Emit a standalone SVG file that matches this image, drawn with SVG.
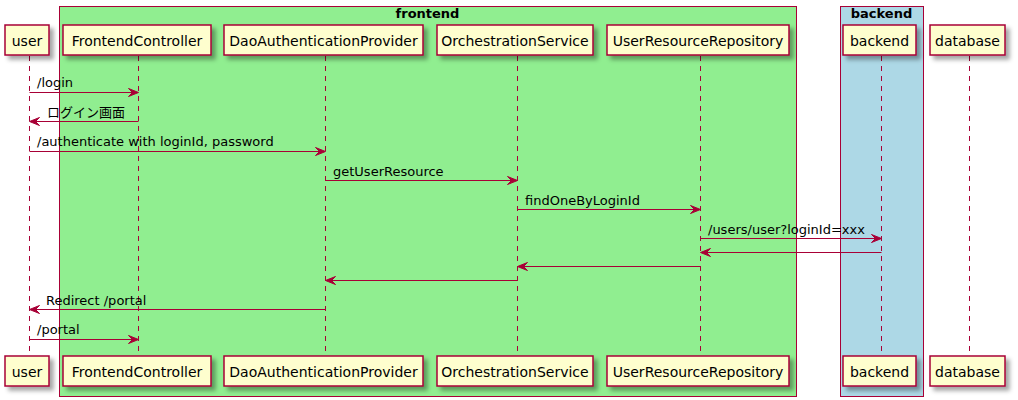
<svg xmlns="http://www.w3.org/2000/svg" width="1018" height="400" viewBox="0 0 1018 400">
<style>
.grp{stroke:#A80036;stroke-width:1}
.pbox{fill:#FEFECE;stroke:#A80036;stroke-width:1.5}
.ptxt{font-family:"DejaVu Sans","Noto Sans CJK JP",sans-serif;font-size:14px;fill:#000;text-anchor:middle}
.title{font-family:"DejaVu Sans",sans-serif;font-size:13px;font-weight:bold;fill:#000;text-anchor:middle}
.life{stroke:#A80036;stroke-width:1;stroke-dasharray:5,5;fill:none}
.msg{stroke:#A80036;stroke-width:1;fill:none}
.head{fill:#A80036;stroke:#A80036;stroke-width:1}
.mtxt{font-family:"DejaVu Sans","Noto Sans CJK JP",sans-serif;font-size:13px;fill:#000}
</style>
<defs>
<filter id="sh" x="-20%" y="-20%" width="150%" height="160%">
<feGaussianBlur in="SourceAlpha" stdDeviation="2"/>
<feOffset dx="4" dy="4" result="b"/>
<feFlood flood-color="#000" flood-opacity="0.35"/>
<feComposite in2="b" operator="in"/>
<feMerge><feMergeNode/><feMergeNode in="SourceGraphic"/></feMerge>
</filter>
</defs>
<rect width="1018" height="400" fill="#FFFFFF"/>
<g id="group-frontend">
<rect class="grp" x="59.5" y="6.5" width="737" height="390" fill="#90EE90"/>
<text class="title" x="427.5" y="18">frontend</text>
</g>
<g id="group-backend">
<rect class="grp" x="840.5" y="6.5" width="83" height="390" fill="#ADD8E6"/>
<text class="title" x="881.5" y="18">backend</text>
</g>
<g id="lifelines">
<line class="life" x1="29.5" y1="56" x2="29.5" y2="356"/>
<line class="life" x1="138.5" y1="56" x2="138.5" y2="356"/>
<line class="life" x1="325.5" y1="56" x2="325.5" y2="356"/>
<line class="life" x1="517.5" y1="56" x2="517.5" y2="356"/>
<line class="life" x1="700.5" y1="56" x2="700.5" y2="356"/>
<line class="life" x1="881.5" y1="56" x2="881.5" y2="356"/>
<line class="life" x1="969.5" y1="56" x2="969.5" y2="356"/>
</g>
<g id="user">
<rect class="pbox" x="5" y="25" width="44" height="30" filter="url(#sh)"/>
<text class="ptxt" x="27" y="45.5">user</text>
<rect class="pbox" x="5" y="356" width="44" height="30" filter="url(#sh)"/>
<text class="ptxt" x="27" y="376.5">user</text>
</g>
<g id="FrontendController">
<rect class="pbox" x="63" y="25" width="148" height="30" filter="url(#sh)"/>
<text class="ptxt" x="137" y="45.5">FrontendController</text>
<rect class="pbox" x="63" y="356" width="148" height="30" filter="url(#sh)"/>
<text class="ptxt" x="137" y="376.5">FrontendController</text>
</g>
<g id="DaoAuthenticationProvider">
<rect class="pbox" x="224" y="25" width="199" height="30" filter="url(#sh)"/>
<text class="ptxt" x="323.5" y="45.5">DaoAuthenticationProvider</text>
<rect class="pbox" x="224" y="356" width="199" height="30" filter="url(#sh)"/>
<text class="ptxt" x="323.5" y="376.5">DaoAuthenticationProvider</text>
</g>
<g id="OrchestrationService">
<rect class="pbox" x="437" y="25" width="156" height="30" filter="url(#sh)"/>
<text class="ptxt" x="515" y="45.5">OrchestrationService</text>
<rect class="pbox" x="437" y="356" width="156" height="30" filter="url(#sh)"/>
<text class="ptxt" x="515" y="376.5">OrchestrationService</text>
</g>
<g id="UserResourceRepository">
<rect class="pbox" x="607" y="25" width="182" height="30" filter="url(#sh)"/>
<text class="ptxt" x="698" y="45.5">UserResourceRepository</text>
<rect class="pbox" x="607" y="356" width="182" height="30" filter="url(#sh)"/>
<text class="ptxt" x="698" y="376.5">UserResourceRepository</text>
</g>
<g id="backend">
<rect class="pbox" x="843" y="25" width="73" height="30" filter="url(#sh)"/>
<text class="ptxt" x="879.5" y="45.5">backend</text>
<rect class="pbox" x="843" y="356" width="73" height="30" filter="url(#sh)"/>
<text class="ptxt" x="879.5" y="376.5">backend</text>
</g>
<g id="database">
<rect class="pbox" x="930" y="25" width="75" height="30" filter="url(#sh)"/>
<text class="ptxt" x="967.5" y="45.5">database</text>
<rect class="pbox" x="930" y="356" width="75" height="30" filter="url(#sh)"/>
<text class="ptxt" x="967.5" y="376.5">database</text>
</g>
<g id="connectors">
<line class="msg" x1="29.5" y1="92.5" x2="137" y2="92.5"/>
<polygon class="head" points="128.5,88.5 138.5,92.5 128.5,96.5 132.5,92.5"/>
<text class="mtxt" x="37" y="87">/login</text>

<line class="msg" x1="31" y1="121.5" x2="138.5" y2="121.5"/>
<polygon class="head" points="39.5,117.5 29.5,121.5 39.5,125.5 35.5,121.5"/>
<text class="mtxt" x="47" y="116.5">ログイン画面</text>

<line class="msg" x1="29.5" y1="151.5" x2="324" y2="151.5"/>
<polygon class="head" points="315.5,147.5 325.5,151.5 315.5,155.5 319.5,151.5"/>
<text class="mtxt" x="37" y="146">/authenticate with loginId, password</text>

<line class="msg" x1="325.5" y1="180.5" x2="516" y2="180.5"/>
<polygon class="head" points="507.5,176.5 517.5,180.5 507.5,184.5 511.5,180.5"/>
<text class="mtxt" x="333" y="175.5">getUserResource</text>

<line class="msg" x1="517.5" y1="209.5" x2="699" y2="209.5"/>
<polygon class="head" points="690.5,205.5 700.5,209.5 690.5,213.5 694.5,209.5"/>
<text class="mtxt" x="525" y="204.5">findOneByLoginId</text>

<line class="msg" x1="700.5" y1="238.5" x2="880" y2="238.5"/>
<polygon class="head" points="871.5,234.5 881.5,238.5 871.5,242.5 875.5,238.5"/>
<text class="mtxt" x="708" y="233.5">/users/user?loginId=xxx</text>

<line class="msg" x1="702" y1="252.5" x2="881.5" y2="252.5"/>
<polygon class="head" points="710.5,248.5 700.5,252.5 710.5,256.5 706.5,252.5"/>

<line class="msg" x1="519" y1="266.5" x2="700.5" y2="266.5"/>
<polygon class="head" points="527.5,262.5 517.5,266.5 527.5,270.5 523.5,266.5"/>

<line class="msg" x1="327" y1="280.5" x2="517.5" y2="280.5"/>
<polygon class="head" points="335.5,276.5 325.5,280.5 335.5,284.5 331.5,280.5"/>

<line class="msg" x1="31" y1="309.5" x2="325.5" y2="309.5"/>
<polygon class="head" points="39.5,305.5 29.5,309.5 39.5,313.5 35.5,309.5"/>
<text class="mtxt" x="46" y="304.5">Redirect /portal</text>

<line class="msg" x1="29.5" y1="339.5" x2="137" y2="339.5"/>
<polygon class="head" points="128.5,335.5 138.5,339.5 128.5,343.5 132.5,339.5"/>
<text class="mtxt" x="37" y="334">/portal</text>
</g>
</svg>
